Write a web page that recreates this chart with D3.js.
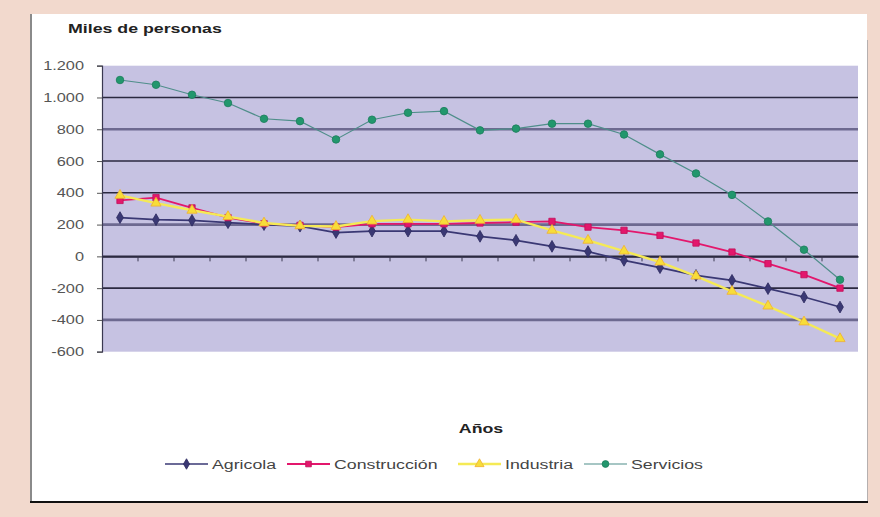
<!DOCTYPE html>
<html><head><meta charset="utf-8">
<script src="https://cdn.jsdelivr.net/npm/d3@7"></script>
<style>html,body{margin:0;padding:0;background:#f2d9cd;}svg{display:block;}</style>
</head><body>
<svg id="chart" width="880" height="517"></svg>
<script>
// ---- data ----
const periodos = d3.range(1, 22).map(String);
const agricola     = [244, 231, 227, 212, 200, 190, 150, 159, 159, 159, 126, 101, 63, 30, -25, -71, -120, -151, -203, -256, -319];
const construccion = [352, 370, 305, 244, 206, 195, 184, 205, 205, 205, 210, 215, 220, 184, 164, 132, 84, 27, -46, -115, -200];
const industria    = [384, 335, 290, 250, 210, 192, 188, 222, 231, 220, 227, 231, 164, 101, 33, -36, -124, -220, -313, -413, -518];
const servicios    = [1110, 1080, 1017, 965, 866, 851, 736, 860, 904, 914, 793, 804, 835, 835, 767, 642, 522, 387, 220, 42, -147];
const yTicks = [-600, -400, -200, 0, 200, 400, 600, 800, 1000, 1200];
const seriesNames = ["Agricola", "Construcción", "Industria", "Servicios"];
const titleY = "Miles de personas";
const titleX = "Años";

// ---- layout ----
const svg = d3.select("#chart");
const SX = 1.42; // horizontal text stretch seen in the picture
const fontF = "'Liberation Sans', Arial, sans-serif";

// panel
svg.append("rect").attr("x", 32).attr("y", 14).attr("width", 835).attr("height", 488).attr("fill", "#ffffff");
svg.append("line").attr("x1", 31).attr("x2", 31).attr("y1", 14).attr("y2", 503).attr("stroke", "#8a8a8a").attr("stroke-width", 2);
svg.append("line").attr("x1", 867.5).attr("x2", 867.5).attr("y1", 40).attr("y2", 503).attr("stroke", "#b5b0b0").attr("stroke-width", 1);
svg.append("line").attr("x1", 30).attr("x2", 868).attr("y1", 502).attr("y2", 502).attr("stroke", "#111").attr("stroke-width", 2);

const plot = {left: 102, right: 858, top: 65.7, bottom: 351.7};
const x = d3.scaleBand().domain(periodos).range([plot.left, plot.right]).padding(0);
const y = d3.scaleLinear().domain([-600, 1200]).range([plot.bottom, plot.top]);
const cx = d => x(d) + x.bandwidth() / 2;

svg.append("rect").attr("x", plot.left).attr("y", plot.top)
  .attr("width", plot.right - plot.left).attr("height", plot.bottom - plot.top)
  .attr("fill", "#c6c2e2");

// gridlines
const lightGrid = new Set([800, 200, -400]);
svg.append("g").selectAll("line").data(yTicks.filter(t => t > -600 && t < 1200)).join("line")
  .attr("x1", plot.left).attr("x2", plot.right)
  .attr("y1", d => y(d)).attr("y2", d => y(d))
  .attr("stroke", d => lightGrid.has(d) ? "#6d6990" : "#2b2940")
  .attr("stroke-width", d => lightGrid.has(d) ? 2.6 : 1.6);

// y axis
const yAxis = svg.append("g").attr("transform", `translate(${plot.left},0)`)
  .call(d3.axisLeft(y).tickValues(yTicks).tickSize(5).tickFormat(() => ""));
yAxis.select(".domain").attr("stroke", "#3a3850").attr("stroke-width", 1.2);
yAxis.selectAll(".tick line").attr("stroke", "#555");
const fmt = d3.formatLocale({decimal: ",", thousands: ".", grouping: [3], currency: ["", ""], minus: "-"}).format(",d");
svg.append("g").selectAll("text").data(yTicks).join("text")
  .attr("transform", d => `translate(84,${y(d) + 4.5}) scale(${SX * 0.92},1)`)
  .attr("text-anchor", "end").attr("font-family", fontF).attr("font-size", 12.5)
  .attr("fill", "#555").text(d => fmt(d));

// x axis at zero with ticks between categories
const xAxis = svg.append("g").attr("transform", `translate(0,${y(0)})`)
  .call(d3.axisBottom(x).tickSize(0).tickFormat(() => ""));
xAxis.select(".domain").attr("stroke", "#2b2940").attr("stroke-width", 1.6);
svg.append("g").selectAll("line").data(periodos.slice(1)).join("line")
  .attr("x1", d => x(d)).attr("x2", d => x(d))
  .attr("y1", y(0)).attr("y2", y(0) + 5)
  .attr("stroke", "#3a3850").attr("stroke-width", 1);

// titles
svg.append("text").attr("transform", `translate(68,33) scale(${SX},1)`)
  .attr("font-family", fontF).attr("font-size", 12.5).attr("font-weight", "bold").attr("fill", "#222").text(titleY);
svg.append("text").attr("transform", `translate(481,433) scale(${SX},1)`)
  .attr("text-anchor", "middle").attr("font-family", fontF).attr("font-size", 12.5).attr("font-weight", "bold").attr("fill", "#222").text(titleX);

// series
const series = [
  {name: seriesNames[0], values: agricola, line: "#3a3874", width: 1.7, fill: "#3a3874", stroke: "#2c2a5e", sym: d3.symbolDiamond, size: 40},
  {name: seriesNames[1], values: construccion, line: "#e3176c", width: 1.8, fill: "#e3176c", stroke: "#c0105a", sym: d3.symbolSquare, size: 40},
  {name: seriesNames[2], values: industria, line: "#f5ea55", width: 2.4, fill: "#f7dd3a", stroke: "#f0b030", sym: d3.symbolTriangle, size: 45},
  {name: seriesNames[3], values: servicios, line: "#4f8e8a", width: 1.2, fill: "#22976d", stroke: "#1a7d5a", sym: d3.symbolCircle, size: 45}
];
const lineGen = d3.line().x((d, i) => cx(periodos[i])).y(d => y(d));
series.forEach(s => {
  const g = svg.append("g");
  g.append("path").datum(s.values).attr("d", lineGen)
    .attr("fill", "none").attr("stroke", s.line).attr("stroke-width", s.width);
  g.selectAll("path.m").data(s.values).join("path").attr("class", "m")
    .attr("transform", (d, i) => `translate(${cx(periodos[i])},${y(d)})`)
    .attr("d", d3.symbol(s.sym, s.size)).attr("fill", s.fill).attr("stroke", s.stroke).attr("stroke-width", 0.8);
});

// legend
const legX = [165, 287, 458, 584];
const leg = svg.append("g");
series.forEach((s, i) => {
  const lx = legX[i], ly = 464;
  leg.append("line").attr("x1", lx).attr("x2", lx + 43).attr("y1", ly).attr("y2", ly)
    .attr("stroke", s.line).attr("stroke-width", s.width);
  leg.append("path").attr("transform", `translate(${lx + 21.5},${ly})`)
    .attr("d", d3.symbol(s.sym, s.size * 0.8)).attr("fill", s.fill).attr("stroke", s.stroke).attr("stroke-width", 0.8);
  leg.append("text").attr("transform", `translate(${lx + 47},${ly + 4.5}) scale(${SX},1)`)
    .attr("font-family", fontF).attr("font-size", 12.5).attr("fill", "#444").text(s.name);
});
</script>
</body></html>
